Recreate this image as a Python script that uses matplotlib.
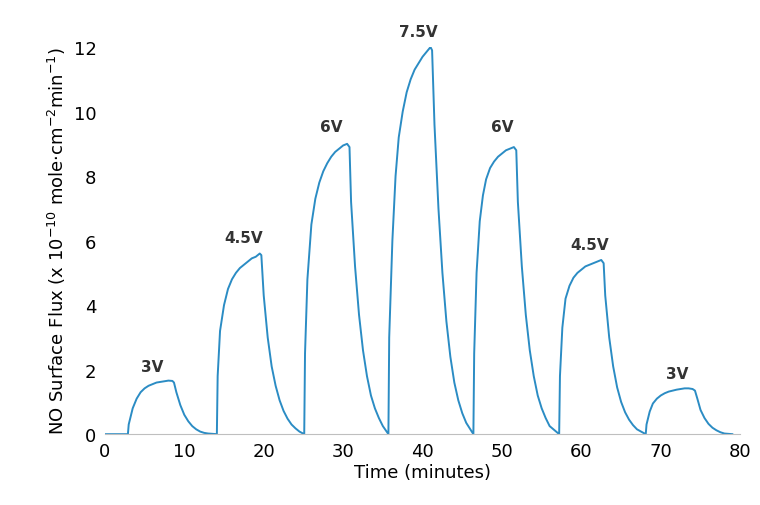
import matplotlib.pyplot as plt

# Time (minutes) and NO flux values, one pulse after another
time_min = [
    0, 2.9,
    3.0, 3.5, 4.0, 4.5, 5.0, 5.5, 6.0, 6.5, 7.0, 7.5, 8.0, 8.5, 8.7,
    9.0, 9.5, 10.0, 10.5, 11.0, 11.5, 12.0, 12.5, 13.0, 14.1,
    14.2, 14.5, 15.0, 15.5, 16.0, 16.5, 17.0, 17.5, 18.0, 18.5, 19.0, 19.5, 19.7,
    20.0, 20.5, 21.0, 21.5, 22.0, 22.5, 23.0, 23.5, 24.0, 24.5, 25.1,
    25.2, 25.5, 26.0, 26.5, 27.0, 27.5, 28.0, 28.5, 29.0, 29.5, 30.0, 30.5, 30.8,
    31.0, 31.5, 32.0, 32.5, 33.0, 33.5, 34.0, 34.5, 35.0, 35.7,
    35.8, 36.2, 36.6, 37.0, 37.5, 38.0, 38.5, 39.0, 39.5, 40.0, 40.5, 41.0, 41.2,
    41.5, 42.0, 42.5, 43.0, 43.5, 44.0, 44.5, 45.0, 45.5, 46.4,
    46.5, 46.8, 47.2, 47.6, 48.0, 48.5, 49.0, 49.5, 50.0, 50.5, 51.0, 51.5, 51.8,
    52.0, 52.5, 53.0, 53.5, 54.0, 54.5, 55.0, 55.5, 56.0, 57.2,
    57.3, 57.6, 58.0, 58.5, 59.0, 59.5, 60.0, 60.5, 61.0, 61.5, 62.0, 62.5, 62.8,
    63.0, 63.5, 64.0, 64.5, 65.0, 65.5, 66.0, 66.5, 67.0, 68.1,
    68.2, 68.6, 69.0, 69.5, 70.0, 70.5, 71.0, 71.5, 72.0, 72.5, 73.0, 73.5, 74.0, 74.3,
    74.6, 75.0, 75.5, 76.0, 76.5, 77.0, 77.5, 78.0, 79.0,
]
flux = [
    0, 0,
    0.3, 0.8, 1.1, 1.3, 1.42, 1.5, 1.55, 1.6, 1.62, 1.64, 1.66, 1.65, 1.6,
    1.3, 0.9, 0.6, 0.4, 0.25, 0.15, 0.08, 0.04, 0.02, 0,
    1.8, 3.2, 4.0, 4.5, 4.8, 5.0, 5.15, 5.25, 5.35, 5.45, 5.5, 5.6, 5.55,
    4.3, 3.0, 2.1, 1.5, 1.05, 0.72, 0.48, 0.3, 0.18, 0.08, 0,
    2.5, 4.8, 6.5, 7.3, 7.8, 8.15, 8.4, 8.6, 8.75, 8.85, 8.95, 9.0, 8.9,
    7.2, 5.2, 3.7, 2.6, 1.8, 1.2, 0.8, 0.5, 0.25, 0,
    3.0, 6.0, 8.0, 9.2, 10.0, 10.6, 11.0, 11.3, 11.5, 11.7, 11.85, 12.0, 11.9,
    9.6, 7.0, 5.0, 3.5, 2.4, 1.6, 1.05, 0.65, 0.35, 0,
    2.5, 5.0, 6.6, 7.4, 7.9, 8.25, 8.45, 8.6, 8.7, 8.8, 8.85, 8.9, 8.8,
    7.2, 5.2, 3.7, 2.6, 1.8, 1.2, 0.8, 0.5, 0.25, 0,
    1.8, 3.3, 4.2, 4.6, 4.85, 5.0, 5.1, 5.2, 5.25, 5.3, 5.35, 5.4, 5.3,
    4.3, 3.0, 2.1, 1.45, 1.0, 0.68, 0.45, 0.28, 0.15, 0,
    0.3, 0.7, 0.95, 1.1, 1.2, 1.27, 1.32, 1.35, 1.38, 1.4, 1.42, 1.42, 1.4, 1.35,
    1.1, 0.75, 0.5, 0.32, 0.2, 0.12, 0.06, 0.02, 0,
]

# Voltage labels placed over each pulse
label_text = ["3V", "4.5V", "6V", "7.5V", "6V", "4.5V", "3V"]
label_x = [6.0, 17.5, 28.5, 39.5, 50.0, 61.0, 72.0]
label_y = [1.85, 5.85, 9.3, 12.25, 9.3, 5.65, 1.65]

fig = plt.figure(figsize=(7.6, 5.06), dpi=100)
ax = fig.add_axes([0.138, 0.14, 0.836, 0.765])
ax.plot(time_min, flux, color="#2b8cc4", linewidth=1.4)

for t, x, y in zip(label_text, label_x, label_y):
    ax.text(x, y, t, ha="center", va="bottom", fontsize=11, fontweight="bold", color="#333333")

ax.set_xlim(0, 80)
ax.set_ylim(0, 12)
ax.set_xticks(range(0, 81, 10))
ax.set_yticks(range(0, 13, 2))
ax.tick_params(labelsize=13, length=0, pad=6)
for s in ["top", "right", "left"]:
    ax.spines[s].set_visible(False)
ax.spines["bottom"].set_color("#bfbfbf")
ax.set_xlabel("Time (minutes)", fontsize=13, labelpad=2)
ax.set_ylabel(r"NO Surface Flux (x 10$^{-10}$ mole$\cdot$cm$^{-2}$min$^{-1}$)", fontsize=13)

fig.savefig("out.png", dpi=100)
